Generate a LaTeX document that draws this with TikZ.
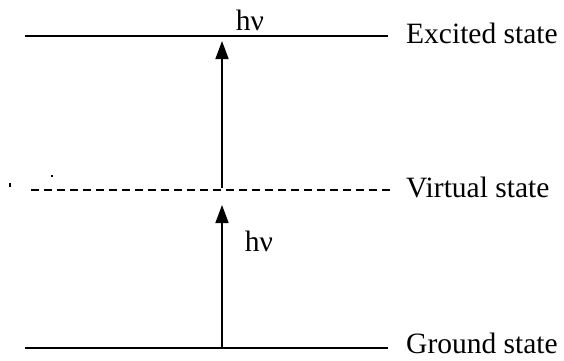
\documentclass[tikz,border=0pt]{standalone}
\usepackage{fontspec}
\setmainfont{Liberation Serif}
\usetikzlibrary{arrows.meta}
\begin{document}
\begin{tikzpicture}[x=1pt,y=-1pt,
  level/.style={line width=1.8pt},
  vlevel/.style={line width=1.6pt,dash pattern=on 8pt off 5pt},
  photon/.style={line width=1.6pt,-{Triangle[width=13pt,length=18pt]}},
  lab/.style={font=\fontsize{29.5}{31}\selectfont,anchor=base west,inner sep=0pt},
  hv/.style={font=\fontsize{29.5}{31}\selectfont,anchor=base,inner sep=0pt}]
\useasboundingbox (0,0) rectangle (564,360);
% levels
\coordinate (e1) at (25,36);  \coordinate (e2) at (388,36);
\coordinate (v1) at (31,190); \coordinate (v2) at (390,190);
\coordinate (g1) at (25,348); \coordinate (g2) at (388,348);
\draw[level] (e1) -- (e2);
\draw[vlevel] (v1) -- (v2);
\draw[level] (g1) -- (g2);
\node[lab] (exc) at (406,43) {Excited state};
\node[lab] (vir) at (406,197) {Virtual state};
\node[lab] (gnd) at (406,353) {Ground state};
% arrows
\coordinate (a1s) at (222,188); \coordinate (a1e) at (222,41);
\coordinate (a2s) at (222,348); \coordinate (a2e) at (222,205);
\draw[photon] (a1s) -- (a1e);
\draw[photon] (a2s) -- (a2e);
\node[hv] (hv1) at (250,30) {hν};
\node[hv] (hv2) at (259,251) {hν};
% specks
\fill (9,183) rectangle (11,187);
\fill (51,175) rectangle (53,177);
\end{tikzpicture}
\end{document}
